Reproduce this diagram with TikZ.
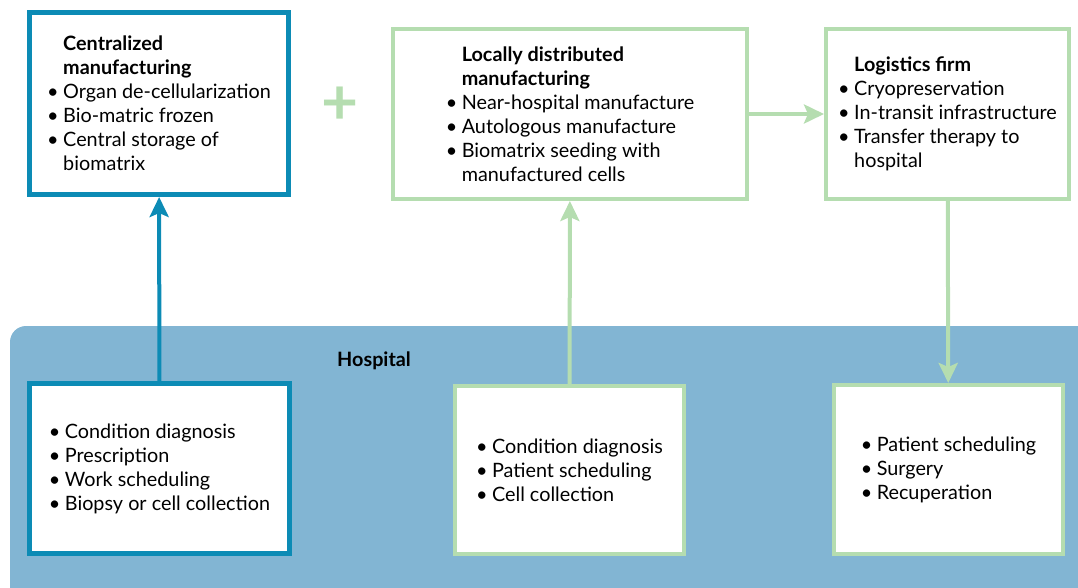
\documentclass[tikz,border=0pt]{standalone}
\usepackage{fontspec}
\setmainfont{Lato}
\usetikzlibrary{arrows.meta}
\usetikzlibrary{positioning}

\definecolor{centralblue}{RGB}{12,139,181}
\definecolor{localgreen}{RGB}{181,221,176}
\definecolor{hospitalbg}{RGB}{130,181,211}

\newcommand{\itm}[1]{\makebox[16pt][l]{\textbullet}#1}
\newcommand{\cont}[1]{\hspace*{16pt}#1}

\begin{document}
\begin{tikzpicture}[x=1pt, y=-1pt,
	    every node/.style={font=\fontsize{19.8}{24}\selectfont},
	    stagebox/.style={draw, fill=white, align=left, inner sep=0pt},
	    bluebox/.style={stagebox, draw=centralblue, line width=5pt},
	    greenbox/.style={stagebox, draw=localgreen, line width=4pt},
	    flow/.style={line width=4pt, -{Stealth[length=20pt, width=19pt, inset=4pt]}}]
	\useasboundingbox (0,0) rectangle (1078,587);

	% hospital area
	\fill[hospitalbg, rounded corners=16pt] (10,326) rectangle (1100,620);
	\node[font=\fontsize{19.8}{24}\selectfont\bfseries] (hosp) at (374,361) {Hospital};

	% manufacturing stages
	\node[bluebox, minimum width=259pt, minimum height=182pt] (central) at (159,103.5)
	    {\cont{\textbf{Centralized}}\\ \cont{\textbf{manufacturing}}\\
	     \itm{Organ de-cellularization}\\ \itm{Bio-matric frozen}\\
	     \itm{Central storage of}\\ \cont{biomatrix}};
	\node[greenbox, minimum width=354pt, minimum height=170pt] (local) at (570,114)
	    {\cont{\textbf{Locally distributed}}\\ \cont{\textbf{manufacturing}}\\
	     \itm{Near-hospital manufacture}\\ \itm{Autologous manufacture}\\
	     \itm{Biomatrix seeding with}\\ \cont{manufactured cells}};
	\node[greenbox, minimum width=243pt, minimum height=170pt] (logist) at (947.5,114)
	    {\cont{\textbf{Logistics firm}}\\ \itm{Cryopreservation}\\
	     \itm{In-transit infrastructure}\\ \itm{Transfer therapy to}\\
	     \cont{hospital}};
	\node[text=localgreen, font=\fontsize{64}{64}\selectfont\bfseries] (plus) at (340,106) {+};

	% hospital stages
	\node[bluebox, minimum width=260pt, minimum height=170pt] (diag) at (159.5,468.5)
	    {\itm{Condition diagnosis}\\ \itm{Prescription}\\
	     \itm{Work scheduling}\\ \itm{Biopsy or cell collection}};
	\node[greenbox, minimum width=229pt, minimum height=168pt] (cells) at (569.5,470)
	    {\itm{Condition diagnosis}\\ \itm{Patient scheduling}\\
	     \itm{Cell collection}};
	\node[greenbox, minimum width=229pt, minimum height=169pt] (surg) at (948.5,469.5)
	    {\itm{Patient scheduling}\\ \itm{Surgery}\\ \itm{Recuperation}};

	% flows
	\draw[flow, centralblue] (diag) -- (central);
	\draw[flow, localgreen] (cells) -- (local);
	\draw[flow, localgreen] (local) -- (logist);
	\draw[flow, localgreen] (logist) -- (surg);
\end{tikzpicture}
\end{document}
